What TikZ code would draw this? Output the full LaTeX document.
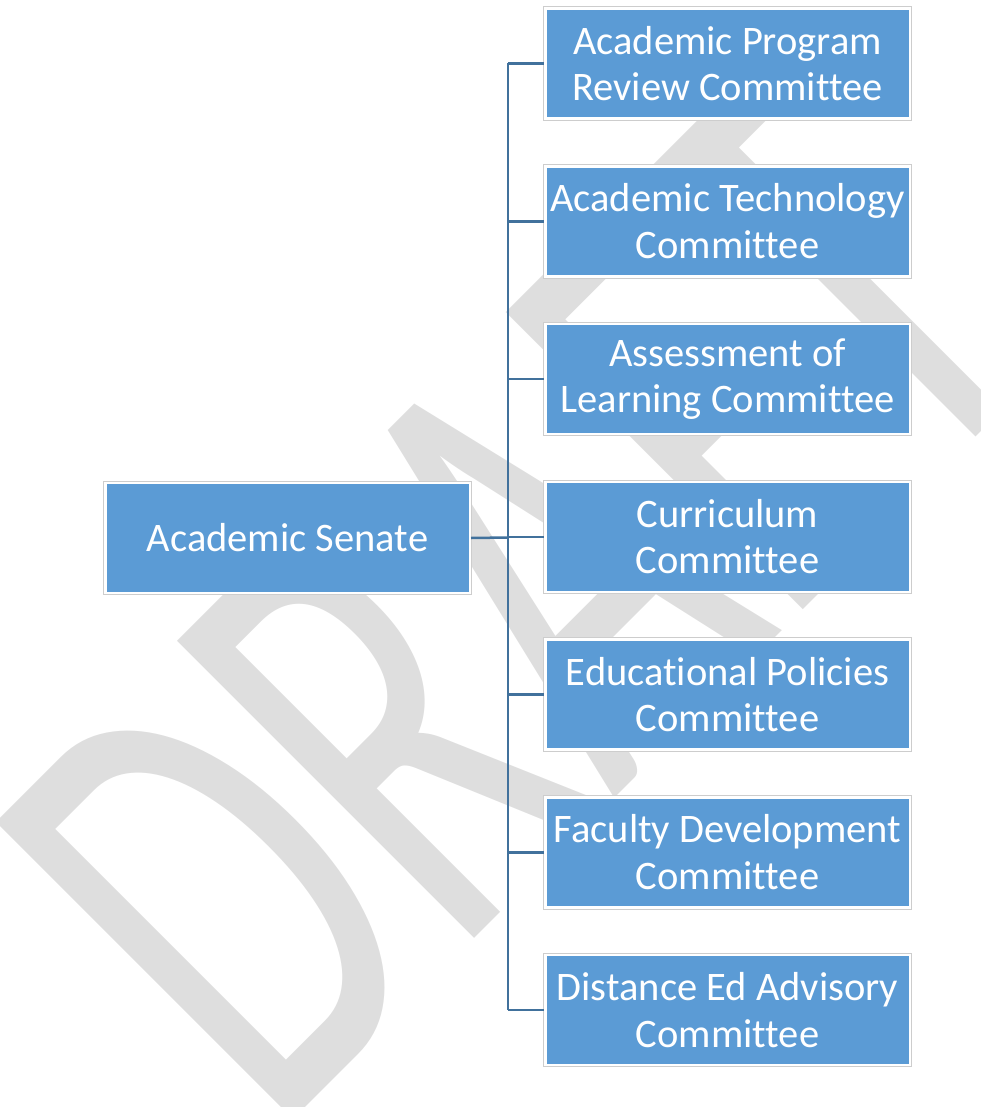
\documentclass[tikz,border=0pt]{standalone}
\usepackage{fontspec}
\setmainfont{Carlito}[Ligatures=NoCommon]
\usepackage{tikz}

\definecolor{boxblue}{HTML}{5B9BD5}
\definecolor{linkblue}{RGB}{65,113,156}
\definecolor{wmgray}{RGB}{222,222,222}
\definecolor{rimgray}{RGB}{205,205,205}

\begin{document}
\begin{tikzpicture}[x=1pt,y=-1pt,
  unit/.style={rectangle, fill=boxblue, draw=white, line width=2.5pt,
    preaction={draw=rimgray, line width=4.5pt},
    minimum width=364.5pt, minimum height=110pt, inner sep=0pt,
    text=white, align=center, font=\fontsize{40.5}{46.5}\selectfont},
  link/.style={draw=linkblue, line width=2.5pt},
  watermark/.style={anchor=base west, inner sep=0pt, rotate=45, xscale=0.634,
    transform shape, text=wmgray, font=\fontsize{655}{655}\selectfont}]

\useasboundingbox (0,0) rectangle (981,1107);

% Draw watermark
\begin{scope}
\clip (0,0) rectangle (981,1107);
\node[watermark] (draft) at (273,1140) {DRAFT};
\end{scope}

% Draw boxes
\node[unit] (senate) at (287.5,538) {Academic Senate};
\node[unit] (apr)    at (727.5,63.5)  {Academic Program\\Review Committee};
\node[unit] (tech)   at (727.5,221.3) {Academic Technology\\Committee};
\node[unit] (assess) at (727.5,379)   {Assessment of\\Learning Committee};
\node[unit] (curr)   at (727.5,536.8) {Curriculum\\Committee};
\node[unit] (edpol)  at (727.5,694.5) {Educational Policies\\Committee};
\node[unit] (facdev) at (727.5,852.3) {Faculty Development\\Committee};
\node[unit] (disted) at (727.5,1010)  {Distance Ed Advisory\\Committee};

% Draw connectors
\coordinate (trunk) at (508,537.5);
\draw[link] (senate.east) -- (trunk);
\draw[link] (trunk |- apr.west) -- (trunk |- disted.west);
\foreach \c in {apr,tech,assess,curr,edpol,facdev,disted}
  \draw[link] (trunk |- \c.west) -- (\c.west);

\end{tikzpicture}
\end{document}
